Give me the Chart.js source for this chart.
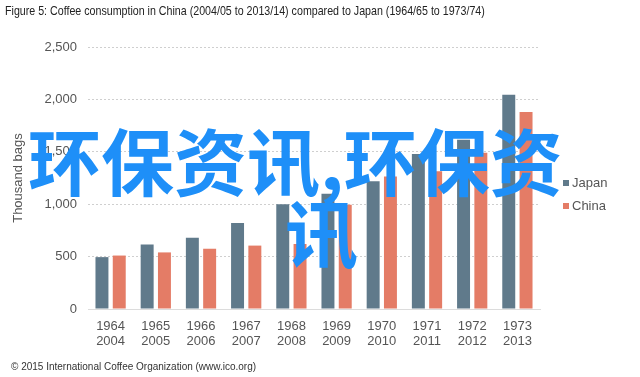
<!DOCTYPE html>
<html>
<head>
<meta charset="utf-8">
<script src="https://cdn.jsdelivr.net/npm/chart.js@4"></script>
<style>
  html, body { margin: 0; padding: 0; background: #fff; }
  #wrap { position: relative; width: 640px; height: 377px; overflow: hidden; }
  #chart { position: absolute; left: 0; top: 0; }
  .title { position: absolute; left: 5px; top: 3px; font: 13px "Liberation Sans", Arial, sans-serif; color: #222; white-space: nowrap; transform: scaleX(0.82); transform-origin: 0 0; }
  .source { position: absolute; left: 11px; top: 361px; font: 10px "Liberation Sans", Arial, sans-serif; color: #333; white-space: nowrap; }
  .legend { position: absolute; left: 563px; font: 13px "Liberation Sans", Arial, sans-serif; color: #555; white-space: nowrap; }
  .legend span { display: inline-block; width: 6px; height: 6px; margin-right: 3px; vertical-align: 1px; }
  .mark { position: absolute; font: bold 73px/73px "Noto Sans CJK SC", sans-serif; color: #1e8ff8; white-space: nowrap; }
</style>
</head>
<body>
<div id="wrap">
  <canvas id="chart" width="640" height="377"></canvas>
  <div class="title">Figure 5: Coffee consumption in China (2004/05 to 2013/14) compared to Japan (1964/65 to 1973/74)</div>
  <div class="legend" style="top:175px"><span style="background:#607a8b"></span>Japan</div>
  <div class="legend" style="top:198px"><span style="background:#e47c66"></span>China</div>
  <div class="source">© 2015 International Coffee Organization (www.ico.org)</div>
  <div class="mark" style="left:28px; top:122px">环保资讯,环保资</div>
  <div class="mark" style="left:285px; top:194px">讯</div>
</div>
<script>
// Crop years (Japan / China)
const japanYears = ['1964', '1965', '1966', '1967', '1968', '1969', '1970', '1971', '1972', '1973'];
const chinaYears = ['2004', '2005', '2006', '2007', '2008', '2009', '2010', '2011', '2012', '2013'];

// Consumption, thousand bags
const japan = [495, 615, 680, 820, 1000, 1100, 1220, 1480, 1615, 2045];
const china = [510, 540, 575, 605, 620, 995, 1265, 1315, 1490, 1880];

const yTicks = [0, 500, 1000, 1500, 2000, 2500];

const labels = japanYears.map((y, i) => [y, chinaYears[i]]);
const tickFont = { family: '"Liberation Sans", Arial, sans-serif', size: 13 };

new Chart(document.getElementById('chart').getContext('2d'), {
    type: 'bar',
    data: {
        labels: labels,
        datasets: [
            { label: 'Japan', data: japan, backgroundColor: '#607a8b' },
            { label: 'China', data: china, backgroundColor: '#e47c66' }
        ]
    },
    options: {
        responsive: false,
        animation: false,
        events: [],
        layout: { padding: { top: 47, right: 100, bottom: 0, left: 0 } },
        datasets: { bar: { categoryPercentage: 0.765, barPercentage: 0.75 } },
        plugins: { legend: { display: false }, tooltip: { enabled: false } },
        scales: {
            x: {
                grid: { display: false },
                border: { display: true, color: '#dcdcdc', width: 1 },
                ticks: { color: '#555', font: { ...tickFont, lineHeight: 1.15 }, padding: 2, maxRotation: 0 },
                afterFit: s => { s.height = 68; }
            },
            y: {
                min: 0,
                max: yTicks[yTicks.length - 1],
                afterBuildTicks: s => { s.ticks = yTicks.map(v => ({ value: v })); },
                grid: { color: '#cfcfcf', drawTicks: false },
                border: { display: false, dash: [2, 2] },
                ticks: {
                    color: '#555', font: tickFont, padding: 11,
                    callback: v => v.toLocaleString('en-US')
                },
                title: {
                    display: true, text: 'Thousand bags', color: '#555',
                    font: tickFont, padding: { top: 11, bottom: 0 }
                },
                afterFit: s => { s.width = 88; }
            }
        }
    }
});
</script>
</body>
</html>
